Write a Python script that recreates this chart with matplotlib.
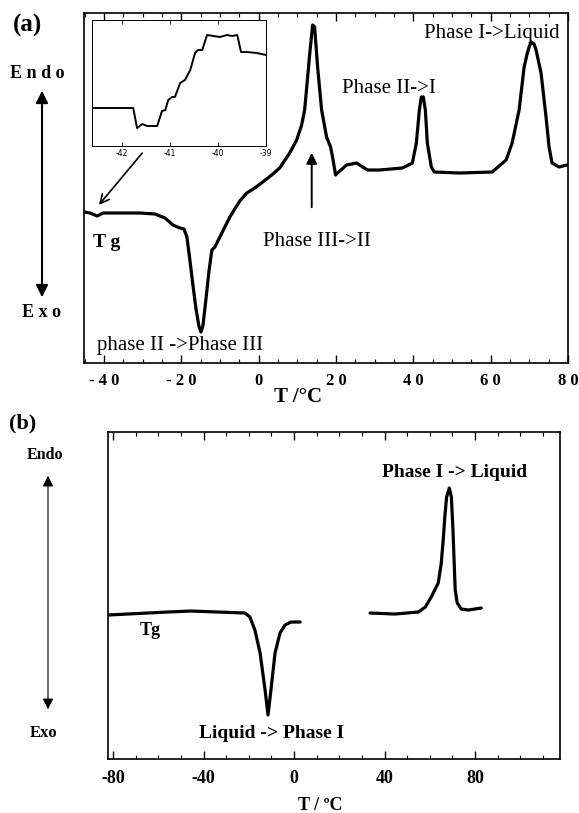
import numpy as np
import matplotlib
matplotlib.use('Agg')
import matplotlib.pyplot as plt
from matplotlib.patches import FancyArrowPatch

plt.rcParams['font.family'] = ['Liberation Serif', 'DejaVu Serif']

# (a) heating scan, heat flow in arbitrary units
temp_a = [-45.16, -43.61, -41.81, -40.26, -35.87, -30.71, -26.84, -24.26, -22.19, -20.39,
          -19.35, -18.58, -17.81, -17.03, -16.26, -15.48, -14.97, -14.45, -13.68, -12.90,
          -12.13, -11.35, -10.06, -7.48, -4.90, -3.10, -1.03, 1.03, 3.35, 5.42,
          8.00, 9.81, 11.10, 11.87, 12.65, 13.16, 13.68, 13.94, 14.45, 15.23,
          16.26, 17.55, 18.58, 19.10, 19.87, 20.39, 22.71, 25.29, 28.13, 31.23,
          37.16, 39.74, 40.77, 41.55, 42.06, 42.58, 43.10, 43.61, 44.65, 45.42,
          51.87, 60.39, 64.00, 65.55, 67.35, 68.65, 69.42, 69.94, 70.45, 71.23,
          71.74, 73.03, 74.32, 75.10, 75.87, 77.68, 79.74]
flow_a = [15.1, 15.0, 14.7, 15.0, 15.0, 15.0, 14.9, 14.5, 13.8, 13.5,
          13.4, 12.6, 10.3, 7.8, 5.5, 3.7, 3.1, 3.7, 6.3, 9.1,
          11.3, 11.6, 12.6, 14.6, 16.2, 17.0, 17.5, 18.1, 18.8, 19.5,
          21.0, 22.3, 23.8, 25.3, 28.6, 30.8, 32.8, 33.8, 33.6, 29.6,
          25.3, 22.6, 21.6, 20.6, 18.8, 19.0, 19.8, 20.0, 19.3, 19.3,
          19.5, 20.0, 22.0, 25.3, 26.6, 26.6, 25.3, 22.0, 19.6, 19.1,
          19.0, 19.1, 20.3, 22.0, 25.3, 29.6, 30.9, 31.6, 32.1, 31.9,
          31.3, 29.0, 24.6, 21.6, 20.0, 19.6, 19.8]

# inset: glass transition region
temp_ins = [-42.63, -41.77, -41.69, -41.58, -41.48, -41.27, -41.17, -41.10, -41.04, -40.96,
            -40.90, -40.79, -40.69, -40.58, -40.48, -40.42, -40.33, -40.23, -40.10, -39.96,
            -39.81, -39.71, -39.60, -39.52, -39.40, -39.19, -39.0]
flow_ins = [38, 38, 18, 22, 20, 20, 35, 36, 46, 49,
            49, 63, 66, 76, 93, 96, 96, 111, 110, 109,
            111, 110, 111, 94, 94, 93, 91]

# (b) cooling segment and heating segment
temp_b1 = [-82.2, -73.5, -64.6, -55.8, -45.6, -33.6, -21.7, -19.5, -17.3, -15.0,
           -12.8, -11.5, -10.2, -8.4, -6.2, -4.0, -1.3, 2.7]
flow_b1 = [14.4, 14.5, 14.6, 14.7, 14.8, 14.7, 14.6, 14.2, 12.9, 10.6,
           6.9, 4.4, 6.9, 10.6, 12.6, 13.4, 13.7, 13.7]
temp_b2 = [33.6, 44.7, 54.9, 58.0, 60.6, 63.7, 65.0, 65.9, 66.6, 67.4,
           68.6, 69.5, 70.2, 70.7, 71.2, 72.1, 73.9, 77.0, 82.7]
flow_b2 = [14.6, 14.5, 14.7, 15.2, 16.2, 17.6, 19.5, 21.9, 24.2, 26.2,
           27.1, 26.2, 23.0, 19.9, 16.9, 15.6, 15.0, 14.9, 15.1]

ticks_a = [-40, -20, 0, 20, 40, 60, 80]
ticklabels_a = ['- 4 0', '- 2 0', '0', '2 0', '4 0', '6 0', '8 0']
ticks_b = [-80, -40, 0, 40, 80]
ticks_ins = [-42, -41, -40, -39]

fig = plt.figure(figsize=(5.79, 8.13), dpi=100)

# ---- panel (a)
ax = fig.add_axes([0.1451, 0.5535, 0.8359, 0.4305])
ax.plot(temp_a, flow_a, color='k', lw=2.3, solid_joinstyle='round', solid_capstyle='round')
ax.set_xlim(-45.2, 80)
ax.set_ylim(0, 35)
ax.set_yticks([])
ax.set_xticks(ticks_a)
ax.set_xticklabels(ticklabels_a, fontweight='bold', fontsize=12)
ax.set_xticks(np.arange(-45, 81, 5), minor=True)
ax.tick_params(axis='x', which='both', direction='in', top=True, pad=7)
ax.tick_params(axis='x', which='major', length=6, width=1)
ax.tick_params(axis='x', which='minor', length=3, width=0.8)
for s in ax.spines.values():
    s.set_linewidth(1.2)

ax.text(60.3, 33.0, 'Phase I->Liquid', fontsize=15, ha='center', va='center')
ax.text(33.8, 27.5, 'Phase II->I', fontsize=15, ha='center', va='center')
ax.text(15.1, 12.2, 'Phase III->II', fontsize=15, ha='center', va='center')
ax.text(-39.4, 12.1, 'T g', fontsize=14, fontweight='bold', ha='center', va='center')
ax.text(-20.4, 1.8, 'phase II ->Phase III', fontsize=15, ha='center', va='center')
ax.annotate('', xy=(13.7, 21.3), xytext=(13.7, 15.3),
            arrowprops=dict(arrowstyle='-|>', color='k', lw=1.4, mutation_scale=16))
ax.annotate('', xy=(-41.8, 15.6), xytext=(-29.7, 21.2),
            arrowprops=dict(arrowstyle='->', color='k', lw=1.2, mutation_scale=16))

# inset
axi = fig.add_axes([0.1589, 0.8204, 0.3005, 0.155])
axi.plot(temp_ins, flow_ins, color='k', lw=1.4)
axi.set_xlim(-42.63, -39)
axi.set_ylim(0, 126)
axi.set_yticks([])
axi.set_xticks(ticks_ins)
axi.set_xticklabels([str(t) for t in ticks_ins], fontsize=5.5, family='DejaVu Sans')
axi.tick_params(axis='x', direction='in', top=True, length=3, width=0.6, pad=2)
for s in axi.spines.values():
    s.set_linewidth(0.7)

# ---- panel (b)
bx = fig.add_axes([0.1865, 0.0664, 0.7807, 0.4022])
bx.plot(temp_b1, flow_b1, color='k', lw=2.3, solid_capstyle='round')
bx.plot(temp_b2, flow_b2, color='k', lw=2.3, solid_capstyle='round')
bx.set_xlim(-82.2, 117.5)
bx.set_ylim(0, 32.7)
bx.set_yticks([])
bx.set_xticks(ticks_b)
bx.set_xticklabels([str(t) for t in ticks_b], fontweight='bold', fontsize=13)
bx.set_xticks(np.arange(-80, 117, 10), minor=True)
bx.tick_params(axis='x', which='both', direction='in', top=True, pad=8)
bx.tick_params(axis='x', which='major', length=6, width=1)
bx.tick_params(axis='x', which='minor', length=3, width=0.8)
for s in bx.spines.values():
    s.set_linewidth(1.2)

bx.text(71.0, 28.7, 'Phase I -> Liquid', fontsize=14, fontweight='bold', ha='center', va='center')
bx.text(-10.0, 2.6, 'Liquid -> Phase I', fontsize=14, fontweight='bold', ha='center', va='center')
bx.text(-63.7, 12.9, 'Tg', fontsize=13, fontweight='bold', ha='center', va='center')

# ---- labels and Endo/Exo arrows in figure coords
W, H = 579.0, 813.0
def fx(x):
    return x / W
def fy(y):
    return 1 - y / H

fig.text(fx(28), fy(25), '(a)', fontsize=18, fontweight='bold', ha='center', va='center')
fig.text(fx(37), fy(73), 'E n d o', fontsize=13, fontweight='bold', ha='center', va='center')
fig.text(fx(41), fy(312), 'E x o', fontsize=13, fontweight='bold', ha='center', va='center')
fig.patches.append(FancyArrowPatch((fx(42), fy(300)), (fx(42), fy(88)), transform=fig.transFigure,
                                   arrowstyle='<|-|>', mutation_scale=18, lw=1.5, color='k'))
fig.text(fx(298), fy(397), 'T /°C', fontsize=15, fontweight='bold', ha='center', va='center')

fig.text(fx(23), fy(423), '(b)', fontsize=16, fontweight='bold', ha='center', va='center')
fig.text(fx(45), fy(455), 'Endo', fontsize=11.5, fontweight='bold', ha='center', va='center')
fig.text(fx(44), fy(733), 'Exo', fontsize=12, fontweight='bold', ha='center', va='center')
fig.patches.append(FancyArrowPatch((fx(48), fy(712)), (fx(48), fy(473)), transform=fig.transFigure,
                                   arrowstyle='<|-|>', mutation_scale=16, lw=0.8, color='k'))
fig.text(fx(320), fy(805), 'T / ºC', fontsize=13, fontweight='bold', ha='center', va='center')

fig.savefig('out.png', dpi=100)
